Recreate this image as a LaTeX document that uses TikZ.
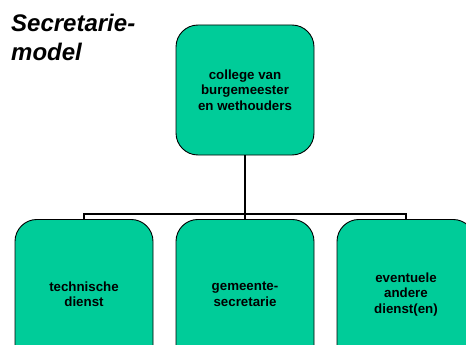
\documentclass[tikz,border=0pt]{standalone}
\usepackage{fontspec}
\setmainfont{Liberation Sans}
\begin{document}
\begin{tikzpicture}[x=1pt,y=-1pt,
  box/.style={draw=black,line width=0.9pt,fill=boxgreen,rounded corners=22pt,
    minimum width=138pt,minimum height=130pt,inner sep=0pt,align=center,
    font=\fontsize{13.3}{15.5}\selectfont\bfseries},
  conn/.style={draw=black,line width=1.1pt}]
\definecolor{boxgreen}{RGB}{0,204,153}
\useasboundingbox (0,0) rectangle (466,345);
\clip (0,0) rectangle (466,345);
\node[anchor=north west,align=left,inner sep=0pt,font=\fontsize{24}{29}\selectfont\bfseries\itshape] (title) at (11,14) {Secretarie-\\model};
\node[box] (college) at (245,90) {college van\\burgemeester\\ en wethouders};
\node[box,anchor=north,minimum height=150pt] (tech) at (84,219) {technische\\dienst};
\node[box,anchor=north,minimum height=150pt] (secr) at (245,219) {gemeente-\\secretarie};
\node[box,anchor=north,minimum height=150pt] (ander) at (406,219) {eventuele\\andere\\dienst(en)};
\coordinate (junc) at (245,214);
\draw[conn] (college.south) -- (junc);
\draw[conn] (tech.north) |- (junc) -| (ander.north);
\draw[conn] (junc) -- (secr.north);
\end{tikzpicture}
\end{document}
